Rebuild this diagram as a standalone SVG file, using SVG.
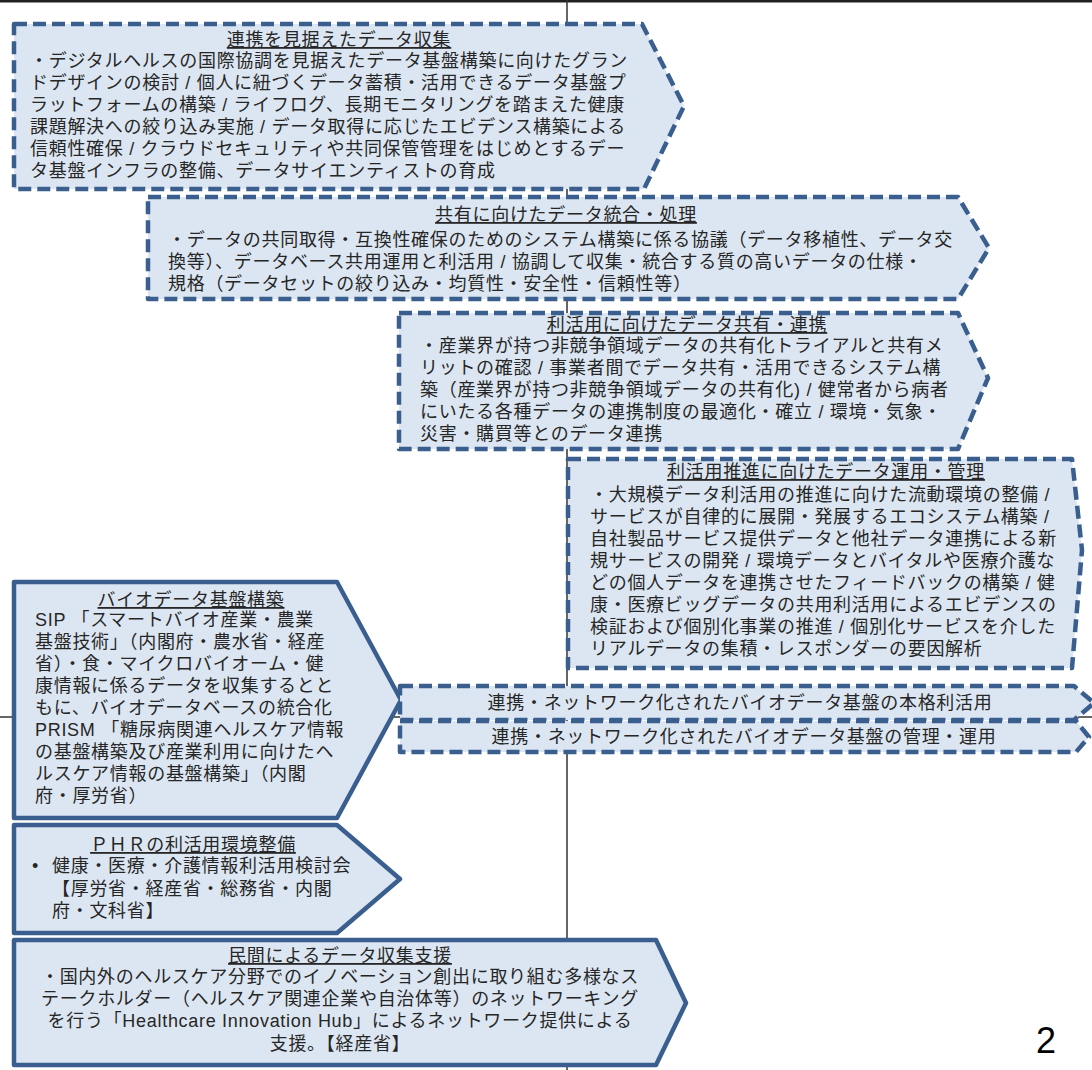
<svg xmlns="http://www.w3.org/2000/svg" width="1092" height="1070" viewBox="0 0 1092 1070">
<style>
.bg{fill:#ffffff}
.dash{fill:#dce6f2;stroke:#3a5f8e;stroke-width:4.5;stroke-dasharray:13 6;stroke-linejoin:round}
.solid{fill:#dce6f2;stroke:#3a5f8e;stroke-width:4.5;stroke-linejoin:round}
.axis{stroke:#333333;stroke-width:1.5;fill:none}
text{font-family:"Liberation Sans","Noto Sans CJK JP",sans-serif;font-size:18px;letter-spacing:0.7px;fill:#262626}
.t{text-anchor:middle;text-decoration:underline}
.c{text-anchor:middle}
.pg{font-size:36px;letter-spacing:0;fill:#000000}
</style>
<rect class="bg" x="0" y="0" width="1092" height="1070"/>
<g id="axes">
<rect x="0" y="0" width="1092" height="2.5" fill="#222222"/>
<line class="axis" x1="567" y1="0" x2="567" y2="1070"/>
<line class="axis" x1="0" y1="717" x2="1092" y2="717"/>
</g>
<g id="connectors"></g>
<g id="n1">
<path class="dash" d="M14,24 L642,24 L684,106 L644,189 L14,189 Z"/>
<text class="t" x="339" y="46">連携を見据えたデータ収集</text>
<text x="30" y="67">・デジタルヘルスの国際協調を見据えたデータ基盤構築に向けたグラン</text>
<text x="30" y="89">ドデザインの検討 / 個人に紐づくデータ蓄積・活用できるデータ基盤プ</text>
<text x="30" y="111">ラットフォームの構築 / ライフログ、長期モニタリングを踏まえた健康</text>
<text x="30" y="133">課題解決への絞り込み実施 / データ取得に応じたエビデンス構築による</text>
<text x="30" y="155">信頼性確保 / クラウドセキュリティや共同保管管理をはじめとするデー</text>
<text x="30" y="177">タ基盤インフラの整備、データサイエンティストの育成</text>
</g>
<g id="n2">
<path class="dash" d="M148,197 L958,197 L989,248 L958,299 L148,299 Z"/>
<text class="t" x="566" y="221">共有に向けたデータ統合・処理</text>
<text x="168" y="246">・データの共同取得・互換性確保のためのシステム構築に係る協議（データ移植性、データ交</text>
<text x="168" y="268">換等）、データベース共用運用と利活用 / 協調して収集・統合する質の高いデータの仕様・</text>
<text x="168" y="290">規格（データセットの絞り込み・均質性・安全性・信頼性等）</text>
</g>
<g id="n3">
<path class="dash" d="M399,313 L958,313 L988,378 L958,449 L399,449 Z"/>
<text class="t" x="687" y="331">利活用に向けたデータ共有・連携</text>
<text x="420" y="352">・産業界が持つ非競争領域データの共有化トライアルと共有メ</text>
<text x="420" y="374">リットの確認 / 事業者間でデータ共有・活用できるシステム構</text>
<text x="420" y="396">築（産業界が持つ非競争領域データの共有化) / 健常者から病者</text>
<text x="420" y="418">にいたる各種データの連携制度の最適化・確立 / 環境・気象・</text>
<text x="420" y="440">災害・購買等とのデータ連携</text>
</g>
<g id="n4">
<path class="dash" d="M568,459 L1072,459 L1082,550 L1072,668 L568,668 Z"/>
<text class="t" x="826" y="478">利活用推進に向けたデータ運用・管理</text>
<text x="590" y="501">・大規模データ利活用の推進に向けた流動環境の整備 /</text>
<text x="590" y="523">サービスが自律的に展開・発展するエコシステム構築 /</text>
<text x="590" y="545">自社製品サービス提供データと他社データ連携による新</text>
<text x="590" y="567">規サービスの開発 / 環境データとバイタルや医療介護な</text>
<text x="590" y="589">どの個人データを連携させたフィードバックの構築 / 健</text>
<text x="590" y="611">康・医療ビッグデータの共用利活用によるエビデンスの</text>
<text x="590" y="633">検証および個別化事業の推進 / 個別化サービスを介した</text>
<text x="590" y="655">リアルデータの集積・レスポンダーの要因解析</text>
</g>
<g id="n5">
<path class="solid" d="M14,582 L337,582 L401,700 L337,818 L14,818 Z"/>
<text class="t" x="191" y="606">バイオデータ基盤構築</text>
<text x="35" y="626">SIP 「スマートバイオ産業・農業</text>
<text x="35" y="648">基盤技術」（内閣府・農水省・経産</text>
<text x="35" y="670">省）・食・マイクロバイオーム・健</text>
<text x="35" y="692">康情報に係るデータを収集するとと</text>
<text x="35" y="714">もに、バイオデータベースの統合化</text>
<text x="35" y="736">PRISM 「糖尿病関連ヘルスケア情報</text>
<text x="35" y="758">の基盤構築及び産業利用に向けたヘ</text>
<text x="35" y="780">ルスケア情報の基盤構築」（内閣</text>
<text x="35" y="802">府・厚労省）</text>
</g>
<g id="n6">
<path class="dash" d="M400,686 L1074,686 L1094,703 L1074,720 L400,720 Z"/>
<text class="c" x="740" y="709">連携・ネットワーク化されたバイオデータ基盤の本格利活用</text>
</g>
<g id="n7">
<path class="dash" d="M400,721 L1076,721 L1089,737 L1076,752 L400,752 Z"/>
<text class="c" x="744" y="743">連携・ネットワーク化されたバイオデータ基盤の管理・運用</text>
</g>
<g id="n8">
<path class="solid" d="M14,825 L337,825 L400,879 L337,933 L14,933 Z"/>
<text class="t" x="193" y="851">ＰＨＲの利活用環境整備</text>
<text x="32" y="872">•</text>
<text x="52" y="872">健康・医療・介護情報利活用検討会</text>
<text x="52" y="895">【厚労省・経産省・総務省・内閣</text>
<text x="52" y="917">府・文科省】</text>
</g>
<g id="n9">
<path class="solid" d="M14,940 L656,940 L686,1003 L656,1065 L14,1065 Z"/>
<text class="t" x="340" y="962">民間によるデータ収集支援</text>
<text class="c" x="340" y="983">・国内外のヘルスケア分野でのイノベーション創出に取り組む多様なス</text>
<text class="c" x="340" y="1005">テークホルダー（ヘルスケア関連企業や自治体等）のネットワーキング</text>
<text class="c" x="340" y="1027">を行う「Healthcare Innovation Hub」によるネットワーク提供による</text>
<text class="c" x="340" y="1050">支援。【経産省】</text>
</g>
<text class="pg" x="1036" y="1053">2</text>
</svg>
